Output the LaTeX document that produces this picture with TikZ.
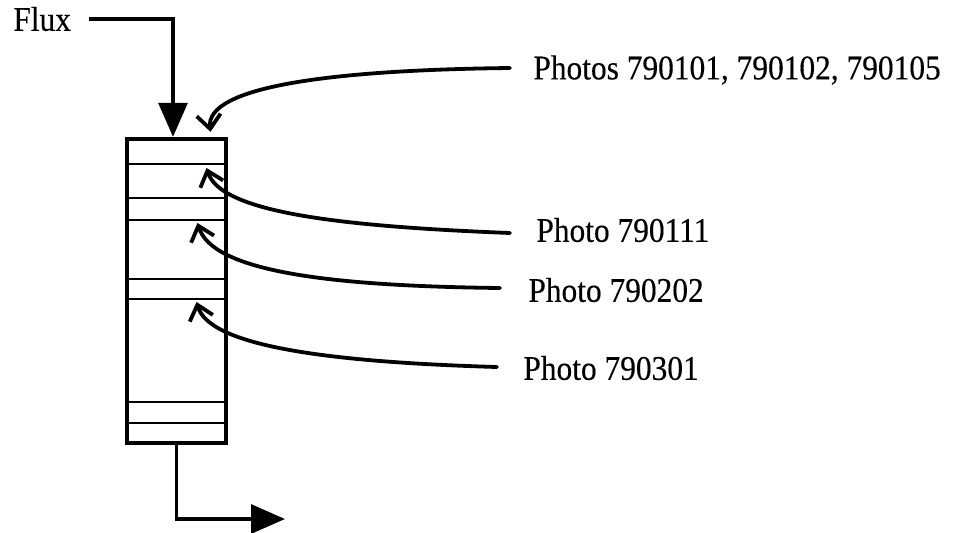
\documentclass[tikz,border=0pt]{standalone}
\usepackage{fontspec}
\setmainfont{Liberation Serif}[FakeBold=0.35]
\usepackage{tikz}
\usetikzlibrary{arrows.meta, positioning, calc}
\newcommand{\tallbox}[1]{\scalebox{1}[1.1]{#1}}

\begin{document}
\begin{tikzpicture}[
    x=0.5pt, y=-0.5pt,
    column/.style={rectangle, draw, line width=2.2pt, minimum width=49.5pt,
                   minimum height=152pt, inner sep=0pt},
    band/.style={rectangle, draw, line width=1pt, minimum width=49.5pt, inner sep=0pt},
    tag/.style={font=\fontsize{15.7}{18}\selectfont, inner sep=0pt, anchor=west},
    flow/.style={-{Triangle[length=17pt, width=14.5pt]}, line width=1.6pt},
    photo/.style={-{Straight Barb[length=7pt, width=12pt]}, line width=1.9pt, line cap=round},
]
    \useasboundingbox (0,0) rectangle (955,532);

    % Column and its layers
    \node[column] (col) at (176.5,291) {};
    \node[band, minimum height=12.5pt] (b1) at (176.5,151.5) {};
    \node[band, minimum height=11pt] (b2) at (176.5,209) {};
    \node[band, minimum height=10pt] (b3) at (176.5,289) {};
    \node[band, minimum height=10.5pt] (b4) at (176.5,412.5) {};

    % Flux in and out
    \node[tag] (flux) at (13,19) {\tallbox{Flux}};
    \draw[flow] ([xshift=9pt]flux.east) -| ([xshift=-1.75pt]col.north);
    \coordinate (exit) at (285,519);
    \draw[flow] (col.south) |- (exit);

    % Photos
    \node[tag] (p1) at (533,70) {\tallbox{Photos 790101, 790102, 790105}};
    \node[tag] (p2) at (536,230) {\tallbox{Photo 790111}};
    \node[tag] (p3) at (528,290) {\tallbox{Photo 790202}};
    \node[tag] (p4) at (523,368) {\tallbox{Photo 790301}};

    \draw[photo] ([xshift=-11.5pt, yshift=1pt]p1.west) .. controls +(-180,2) and +(-5,-45) .. ([xshift=17pt, yshift=2.5pt]col.north);
    \draw[photo] ([xshift=-13pt, yshift=-1.5pt]p2.west) .. controls +(-180,-7) and +(14,43) .. ([xshift=15pt, yshift=-1.5pt]b1.south);
    \draw[photo] ([xshift=-14pt, yshift=1pt]p3.west) .. controls +(-173,-2) and +(15,48) .. ([xshift=10.5pt, yshift=-1pt]b2.south);
    \draw[photo] ([xshift=-13pt, yshift=0.5pt]p4.west) .. controls +(-170,-5) and +(13,44) .. ([xshift=10pt, yshift=-1pt]b3.south);
\end{tikzpicture}
\end{document}
